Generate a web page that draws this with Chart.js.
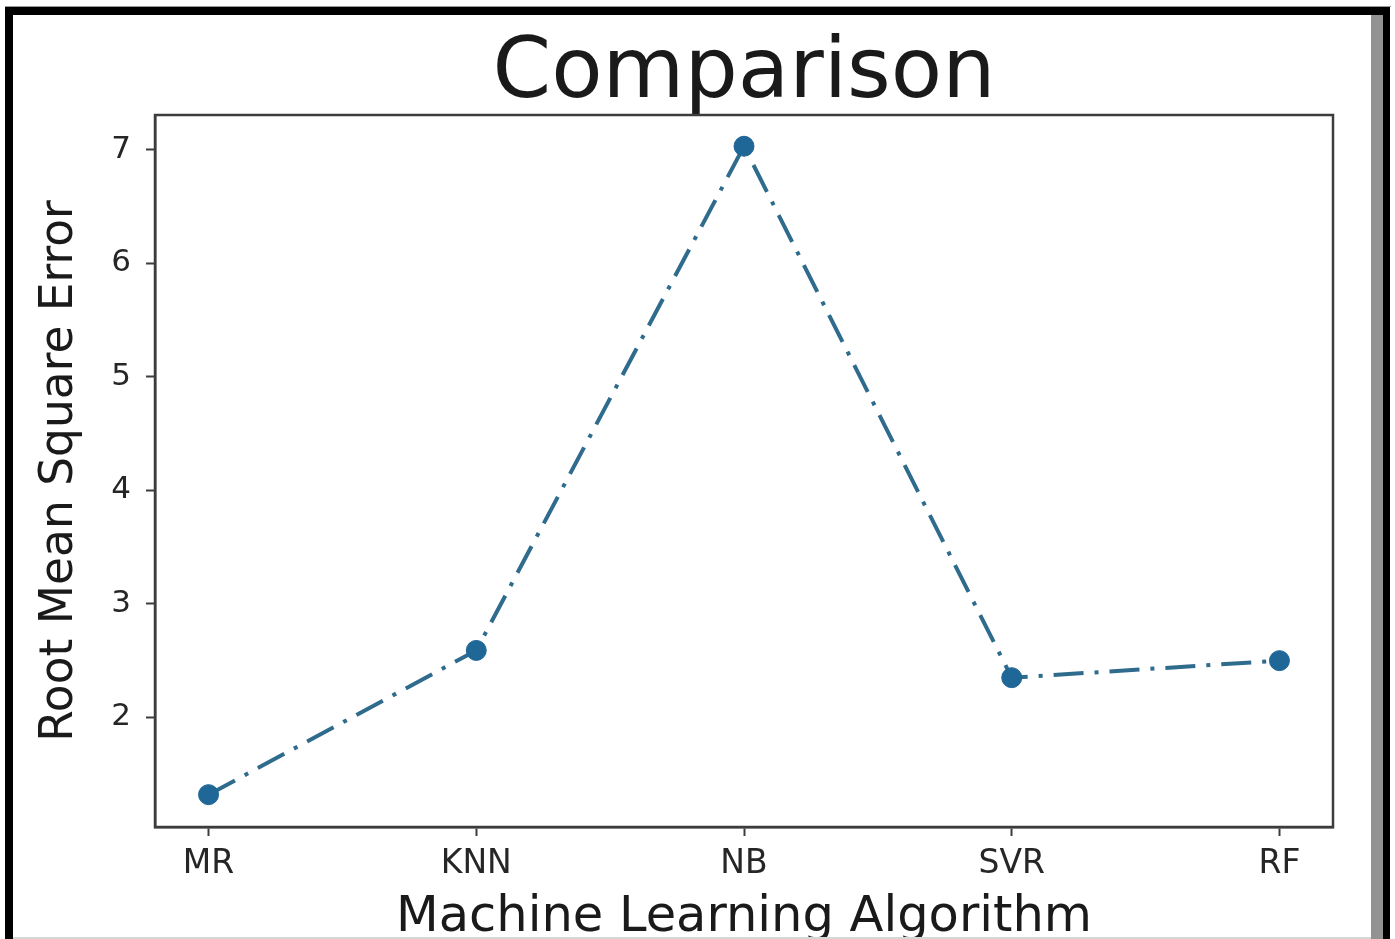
<!DOCTYPE html>
<html>
<head>
<meta charset="utf-8">
<title>Comparison</title>
<script src="https://cdn.jsdelivr.net/npm/chart.js@4/dist/chart.umd.min.js"></script>
<style>
  html, body { margin: 0; padding: 0; background: #fff; }
  #wrap { position: relative; width: 1395px; height: 939px; overflow: hidden; }
  #chart { position: absolute; left: 0; top: 0; }
  .bar { position: absolute; z-index: 2; }
</style>
</head>
<body>
<div id="wrap">
  <canvas id="chart" width="1395" height="939"></canvas>
  <!-- picture frame around the figure -->
  <div class="bar" style="left:5px;top:6px;width:1386px;height:1px;background:#9a9a9a"></div>
  <div class="bar" style="left:5px;top:7px;width:1385px;height:8px;background:#000"></div>
  <div class="bar" style="left:5px;top:7px;width:8px;height:932px;background:#000"></div>
  <div class="bar" style="left:1371px;top:15px;width:12px;height:924px;background:#929292"></div>
  <div class="bar" style="left:1383px;top:7px;width:7px;height:932px;background:#000"></div>
  <div class="bar" style="left:13px;top:937px;width:1358px;height:2px;background:#d6d6d6"></div>
</div>
<script>
// Algorithms compared and their root mean square error
const algorithms = ['MR', 'KNN', 'NB', 'SVR', 'RF'];
const rmseValues = [1.32, 2.59, 7.03, 2.35, 2.50];
const yTickValues = [2, 3, 4, 5, 6, 7];

const FONT = "'DejaVu Sans', 'Liberation Sans', sans-serif";
const INK = '#262626';
const SPINE = '#3c3c3c';

// four-sided plot frame (top and right spines are not axes here)
const plotFrame = {
  id: 'plotFrame',
  afterDraw(chart) {
    const { ctx, chartArea: a } = chart;
    ctx.save();
    ctx.strokeStyle = SPINE;
    ctx.lineWidth = 2.5;
    ctx.strokeRect(a.left, a.top, a.right - a.left, a.bottom - a.top);
    ctx.restore();
  }
};

const points = algorithms.map((_, i) => ({ x: i, y: rmseValues[i] }));

new Chart(document.getElementById('chart'), {
  type: 'line',
  data: {
    datasets: [{
      data: points,
      borderColor: '#2f6b8c',
      borderWidth: 4,
      borderDash: [30, 11, 4, 11],
      pointStyle: 'circle',
      pointRadius: 10,
      pointBackgroundColor: '#1f6797',
      pointBorderColor: '#1f6797',
      pointBorderWidth: 1,
      tension: 0,
      fill: false
    }]
  },
  options: {
    responsive: false,
    animation: false,
    layout: { padding: { left: 0, right: 62, top: 0, bottom: 0 } },
    plugins: {
      legend: { display: false },
      tooltip: { enabled: false },
      title: {
        display: true,
        text: 'Comparison',
        fullSize: false,
        color: '#1a1a1a',
        font: { family: FONT, size: 84, weight: 'normal', lineHeight: 0.9 },
        padding: { top: 37, bottom: 2.4 }
      }
    },
    scales: {
      x: {
        type: 'linear',
        min: -0.2,
        max: 4.2,
        afterBuildTicks: s => { s.ticks = algorithms.map((_, i) => ({ value: i })); },
        afterFit: s => { s.height = 112; },
        ticks: {
          color: INK,
          font: { family: FONT, size: 33 },
          padding: 9,
          maxRotation: 0,
          autoSkip: false,
          callback: v => algorithms[v]
        },
        grid: {
          drawOnChartArea: false,
          drawTicks: true,
          tickLength: 9,
          tickWidth: 2,
          tickColor: SPINE
        },
        border: { display: true, color: SPINE, width: 2.5 },
        title: {
          display: true,
          text: 'Machine Learning Algorithm',
          color: '#1a1a1a',
          font: { family: FONT, size: 49.5, lineHeight: 0.85 },
          padding: { top: 0, bottom: 0 }
        }
      },
      y: {
        type: 'linear',
        min: 1.035,
        max: 7.305,
        afterBuildTicks: s => { s.ticks = yTickValues.map(v => ({ value: v })); },
        afterFit: s => { s.width = 155; },
        ticks: {
          color: INK,
          font: { family: FONT, size: 31 },
          padding: 15
        },
        grid: {
          drawOnChartArea: false,
          drawTicks: true,
          tickLength: 9,
          tickWidth: 2,
          tickColor: SPINE
        },
        border: { display: true, color: SPINE, width: 2.5 },
        title: {
          display: true,
          text: 'Root Mean Square Error',
          color: '#1a1a1a',
          font: { family: FONT, size: 45.5, lineHeight: 1.0 },
          padding: { top: 37, bottom: 0 }
        }
      }
    }
  },
  plugins: [plotFrame]
});
</script>
</body>
</html>
